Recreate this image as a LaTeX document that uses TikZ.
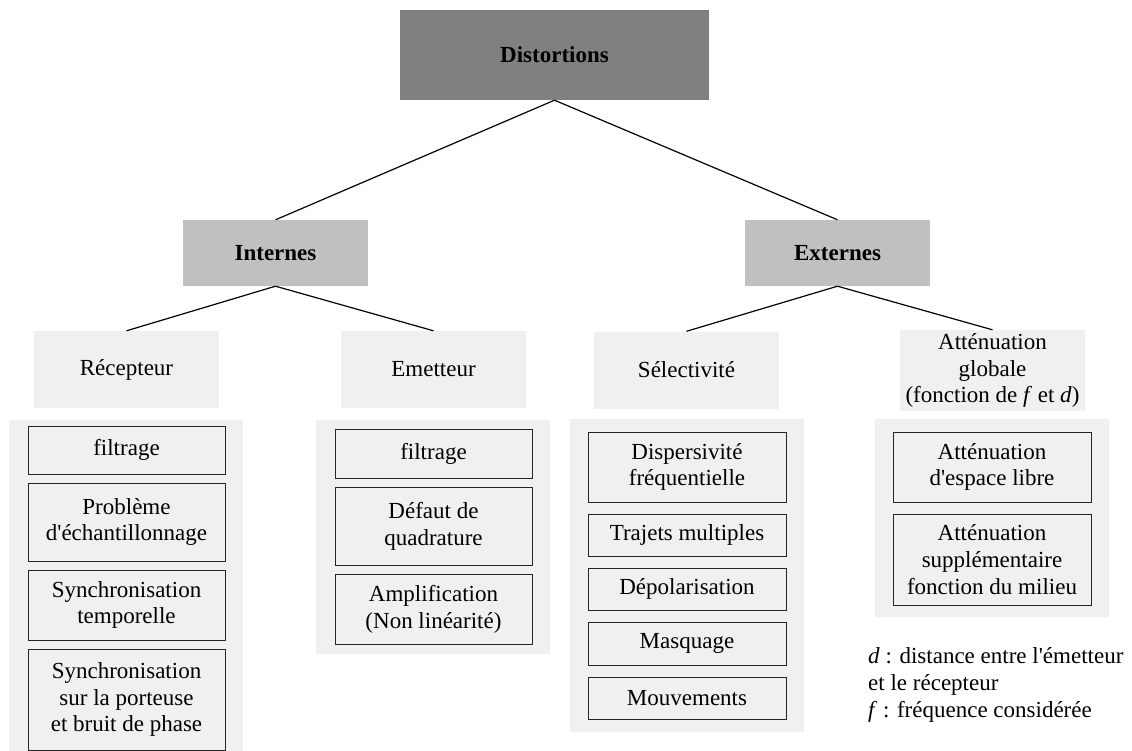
\documentclass[tikz,border=0pt]{standalone}
\usepackage{fontspec}
\setmainfont{Liberation Serif}[Ligatures=TeXOff]
\usepackage{tikz}

\definecolor{topgrey}{HTML}{808080}
\definecolor{midgrey}{HTML}{C0C0C0}
\definecolor{panelgrey}{HTML}{F0F0F0}

\begin{document}
\begin{tikzpicture}[x=1pt,y=-1pt,
	every node/.style={font=\fontsize{23}{26.7}\selectfont, align=center, inner sep=0pt},
	head/.style={fill=topgrey, minimum width=309pt, minimum height=90pt, font=\fontsize{23}{26.7}\selectfont\bfseries},
	branch/.style={fill=midgrey, minimum width=185pt, minimum height=66pt, font=\fontsize{23}{26.7}\selectfont\bfseries},
	family/.style={fill=panelgrey, minimum width=185pt, minimum height=77pt},
	cause/.style={fill=panelgrey, draw=black!85, line width=1pt, minimum width=197pt},
	panel/.style={fill=panelgrey},
	link/.style={draw=black, line width=1.2pt}]
	\useasboundingbox (0,0) rectangle (1132,751);

	% panels behind the lists
	\fill[panel] (9,420) rectangle (243,760);
	\fill[panel] (316,420) rectangle (550,654);
	\fill[panel] (570,419) rectangle (804,732);
	\fill[panel] (875,419) rectangle (1109,617);

	\node[head] (dist) at (554.5, 55)   {Distortions};
	\node[branch] (int) at (275.5, 253) {Internes};
	\node[branch] (ext) at (837.5, 253) {Externes};

	\node[family] (rec) at (126.5, 369.5) {Récepteur};
	\node[family] (emet) at (433.5, 369.5) {Emetteur};
	\node[family] (sel) at (686.5, 370)   {Sélectivité};
	\node[family, minimum height=81pt] (att) at (992.5, 370.5) {Atténuation\\globale\\(fonction de \textit{f} et \textit{d})};

	% recepteur
	\node[cause, minimum height=48pt] (rec1) at (126.5, 450)   {filtrage};
	\node[cause, minimum height=78pt] (rec2) at (126.5, 522)   {Problème\\d'échantillonnage};
	\node[cause, minimum height=70pt] (rec3) at (126.5, 605)   {Synchronisation\\temporelle};
	\node[cause, minimum height=101pt] (rec4) at (126.5, 699.5) {Synchronisation\\sur la porteuse\\et bruit de phase};

	% emetteur
	\node[cause, minimum height=49pt] (emet1) at (433.5, 453.5) {filtrage};
	\node[cause, minimum height=78pt] (emet2) at (433.5, 526)   {Défaut de\\quadrature};
	\node[cause, minimum height=70pt] (emet3) at (433.5, 609)   {Amplification\\(Non linéarité)};

	% selectivite
	\node[cause, minimum width=198pt, minimum height=70pt] (sel1) at (687, 467)   {Dispersivité\\fréquentielle};
	\node[cause, minimum width=198pt, minimum height=42pt] (sel2) at (687, 535)   {Trajets multiples};
	\node[cause, minimum width=198pt, minimum height=42pt] (sel3) at (687, 589)   {Dépolarisation};
	\node[cause, minimum width=198pt, minimum height=43pt] (sel4) at (687, 643.5) {Masquage};
	\node[cause, minimum width=198pt, minimum height=42pt] (sel5) at (687, 698)   {Mouvements};

	% attenuation
	\node[cause, minimum width=198pt, minimum height=70pt] (att1) at (992, 467)   {Atténuation\\d'espace libre};
	\node[cause, minimum width=198pt, minimum height=91pt] (att2) at (992, 559.5) {Atténuation\\supplémentaire\\fonction du milieu};

	\node[align=left, anchor=west] (note) at (868, 685) {\textit{d} : distance entre l'émetteur\\et le récepteur\\\textit{f} : fréquence considérée};

	\path[link] (dist.south) edge (int.north);
	\path[link] (dist.south) edge (ext.north);
	\path[link] (int.south) edge (rec.north);
	\path[link] (int.south) edge (emet.north);
	\path[link] (ext.south) edge (sel.north);
	\path[link] (ext.south) edge (att.north);
\end{tikzpicture}
\end{document}
